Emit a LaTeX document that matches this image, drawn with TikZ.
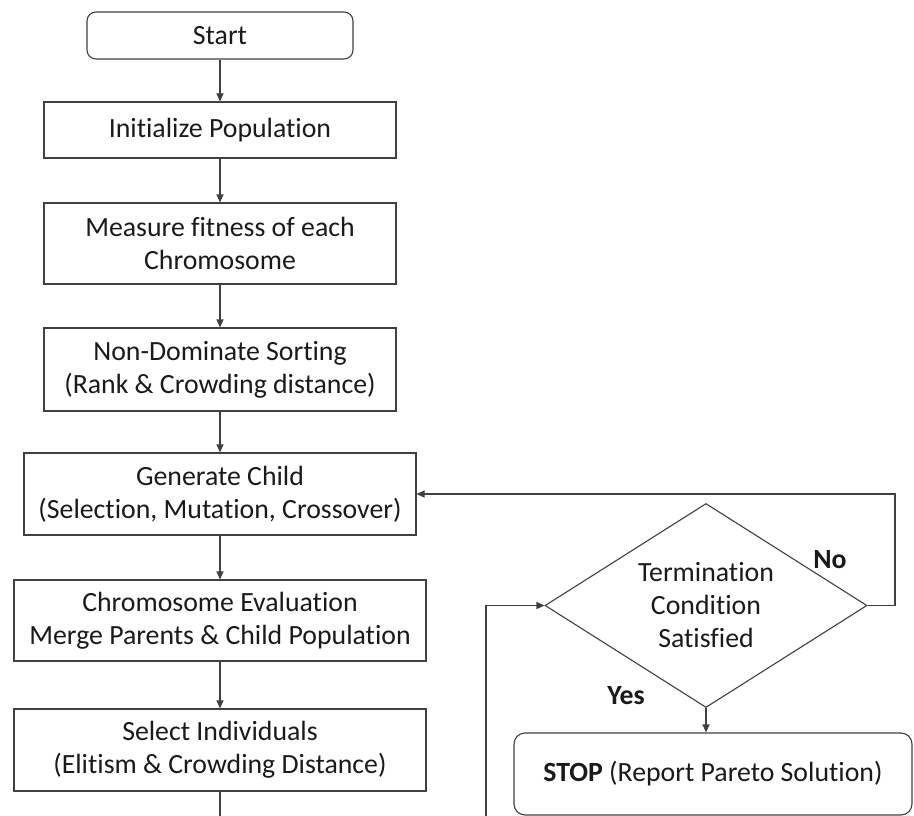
\documentclass[tikz,border=0pt]{standalone}
\usepackage{fontspec}
\setmainfont[Ligatures=NoCommon]{Carlito}
\usetikzlibrary{shapes.geometric,arrows.meta}
\definecolor{linec}{HTML}{404040}
\definecolor{textc}{HTML}{1A1A1A}
\begin{document}
\begin{tikzpicture}[x=1pt,y=-1pt,
  every node/.style={font=\fontsize{27.8}{33}\selectfont, text=textc},
  box/.style={draw=linec, line width=1.1pt, rectangle, inner sep=0pt, align=center},
  rbox/.style={box, rounded corners=9pt},
  dia/.style={draw=linec, line width=1.1pt, diamond, inner sep=0pt, align=center, shape aspect=1.58},
  conn/.style={draw=linec, line width=1.1pt},
  arr/.style={conn, -{Triangle[length=8pt,width=7pt]}},
  lbl/.style={font=\fontsize{27.8}{33}\selectfont\bfseries}
]
\useasboundingbox (0,0) rectangle (914,816);
\node[rbox, minimum width=266pt, minimum height=47pt] (start) at (220,35.5) {Start};
\node[box, minimum width=352pt, minimum height=56pt] (init) at (220,130) {Initialize Population};
\node[box, minimum width=352pt, minimum height=81pt] (meas) at (220,243.5) {Measure fitness of each\\Chromosome};
\node[box, minimum width=352pt, minimum height=83pt] (nds) at (220,369.5) {Non-Dominate Sorting\\(Rank \& Crowding distance)};
\node[box, minimum width=392pt, minimum height=82pt] (gen) at (220,494) {Generate Child\\(Selection, Mutation, Crossover)};
\node[box, minimum width=412pt, minimum height=81pt] (eval) at (220,620.5) {Chromosome Evaluation\\Merge Parents \& Child Population};
\node[box, minimum width=412pt, minimum height=82pt] (sel) at (220,750) {Select Individuals\\(Elitism \& Crowding Distance)};
\node[dia, minimum width=322pt, minimum height=204pt] (term) at (706,605.5) {Termination\\Condition\\Satisfied};
\node[rbox, rounded corners=11pt, minimum width=398pt, minimum height=82pt] (stop) at (713,774) {\textbf{STOP} (Report Pareto Solution)};
\node[lbl] (no) at (830,560) {No};
\node[lbl] (yes) at (626,696) {Yes};
\coordinate (selend) at (220,816);
\coordinate (fbbot) at (486,816);
\coordinate (fbtop) at (486,605.5);
\coordinate (nor) at (895,605.5);
\coordinate (notop) at (895,494);
\draw[arr] (start) -- (init);
\draw[arr] (init) -- (meas);
\draw[arr] (meas) -- (nds);
\draw[arr] (nds) -- (gen);
\draw[arr] (gen) -- (eval);
\draw[arr] (eval) -- (sel);
\draw[conn] (sel) -- (selend);
\draw[arr] (fbbot) -- (fbtop) -- (term.west);
\draw[arr] (term.east) -- (nor) -- (notop) -- (gen.east);
\draw[arr] (term.south) -- (term.south |- stop.north);
\end{tikzpicture}
\end{document}
